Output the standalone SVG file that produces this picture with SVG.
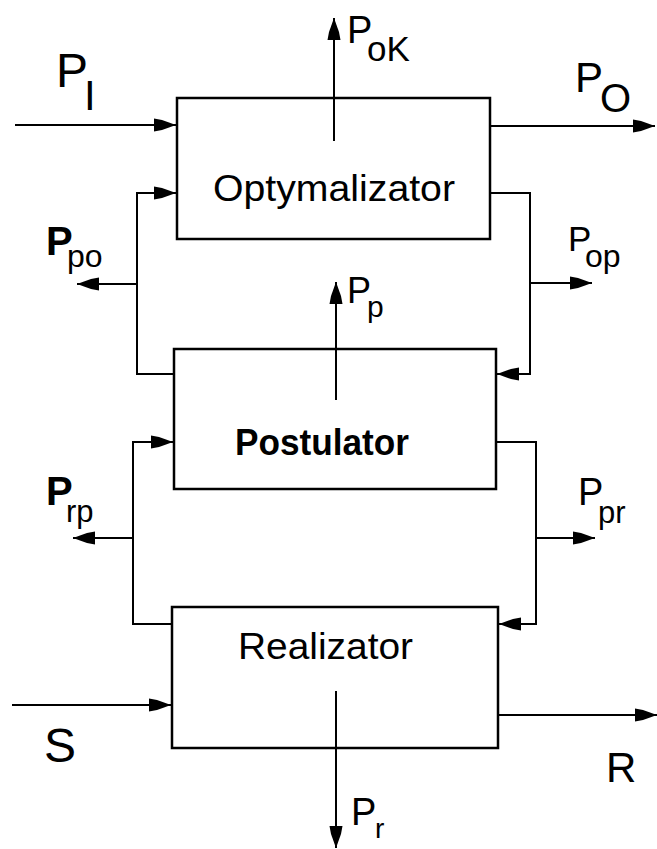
<svg xmlns="http://www.w3.org/2000/svg" width="657" height="849" viewBox="0 0 657 849">
<defs>
<marker id="ah" viewBox="0 0 22 14" refX="22" refY="7" markerWidth="22" markerHeight="14" markerUnits="userSpaceOnUse" orient="auto">
<path d="M0,0.5 L8,2 L22,7 L8,12 L0,13.5 Z" fill="#000"/>
</marker>
<style>
.box{fill:#fff;stroke:#000;stroke-width:2.5}
.ln{fill:none;stroke:#000;stroke-width:2}
.ar{fill:none;stroke:#000;stroke-width:2;marker-end:url(#ah)}
.t{font-family:"Liberation Sans",Arial,sans-serif;fill:#000}
</style>
</defs>
<rect width="657" height="849" fill="#fff"/>
<g id="optymalizator">
<rect class="box" x="177" y="98" width="313" height="141"/>
<text class="t" x="213" y="201" font-size="36" textLength="242" lengthAdjust="spacingAndGlyphs">Optymalizator</text>
</g>
<g id="postulator">
<rect class="box" x="174" y="349" width="322" height="140"/>
<text class="t" x="235" y="455" font-size="36" font-weight="bold" textLength="174" lengthAdjust="spacingAndGlyphs">Postulator</text>
</g>
<g id="realizator">
<rect class="box" x="172" y="607" width="326" height="141"/>
<text class="t" x="238" y="659" font-size="36" textLength="175" lengthAdjust="spacingAndGlyphs">Realizator</text>
</g>
<g id="connectors">
<path class="ar" d="M15,125 H176"/>
<path class="ar" d="M490,126 H655"/>
<path class="ar" d="M12,705 H171"/>
<path class="ar" d="M498,715 H657"/>
<path class="ar" d="M174,374 H137 V193 H176"/>
<path class="ar" d="M137,284 H77"/>
<path class="ar" d="M172,624 H133 V442 H173"/>
<path class="ar" d="M133,538 H73"/>
<path class="ar" d="M490,193 H530 V374 H497"/>
<path class="ar" d="M530,283 H592"/>
<path class="ar" d="M496,442 H536 V624 H499"/>
<path class="ar" d="M536,538 H595"/>
<path class="ar" d="M334,141 V18"/>
<path class="ar" d="M336,400 V282"/>
<path class="ar" d="M336,691 V848"/>
</g>
<g id="labels">
<text class="t" x="56" y="87" font-size="48">P</text>
<text class="t" x="84" y="110" font-size="42">I</text>
<text class="t" x="575" y="92" font-size="42">P</text>
<text class="t" x="600" y="112" font-size="40">O</text>
<text class="t" x="347" y="43" font-size="38">P</text>
<text class="t" x="367" y="61" font-size="35">oK</text>
<text class="t" x="347" y="303" font-size="36">P</text>
<text class="t" x="367" y="317" font-size="30">p</text>
<text class="t" x="351" y="825" font-size="38">P</text>
<text class="t" x="375" y="838" font-size="28">r</text>
<text class="t" x="46" y="255" font-size="40" font-weight="bold">P</text>
<text class="t" x="67" y="267" font-size="32">po</text>
<text class="t" x="568" y="251" font-size="35">P</text>
<text class="t" x="585" y="267" font-size="32">op</text>
<text class="t" x="46" y="505" font-size="40" font-weight="bold">P</text>
<text class="t" x="66" y="522" font-size="31">rp</text>
<text class="t" x="578" y="505" font-size="38">P</text>
<text class="t" x="598" y="523" font-size="31">pr</text>
<text class="t" x="606" y="782" font-size="42">R</text>
<text class="t" x="44" y="762" font-size="48">S</text>
</g>
</svg>
